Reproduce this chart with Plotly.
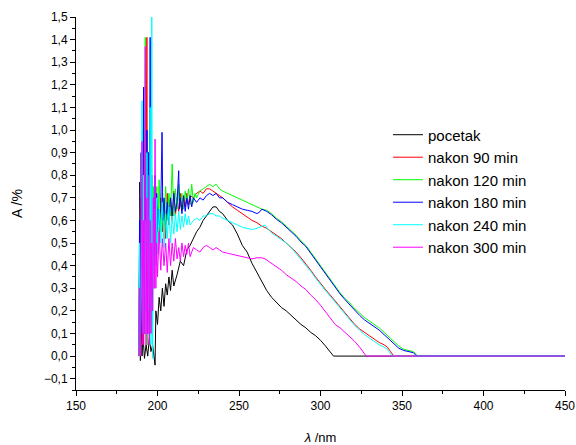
import plotly.graph_objects as go

# ---------------- data ----------------
pocetak_x = [189, 189.5, 190, 190.5, 191, 192, 193, 194, 195, 196, 197, 198, 198.5, 199, 200,
             201, 202, 203, 204, 205, 206, 207, 208, 209, 210, 212, 214, 216, 218, 220, 222,
             224, 226, 228, 230, 232, 234, 236, 238, 240, 243, 246, 249, 252, 255, 258, 261,
             264, 267, 270, 273, 276, 279, 282, 285, 288, 291, 294, 297, 300, 303, 306, 308, 450]
pocetak_y = [0.77, -0.02, 0.30, 0.00, 0.10, -0.01, 0.05, 0.00, 0.08, 0.02, 0.05, 0.00, -0.04, 0.20, 0.14,
             0.26, 0.20, 0.30, 0.22, 0.32, 0.27, 0.35, 0.29, 0.38, 0.31, 0.36, 0.42, 0.40, 0.47, 0.49, 0.52,
             0.55, 0.57, 0.60, 0.62, 0.64, 0.66, 0.66, 0.64, 0.63, 0.60, 0.58, 0.54, 0.49, 0.46, 0.41, 0.37,
             0.33, 0.29, 0.26, 0.235, 0.215, 0.20, 0.18, 0.16, 0.14, 0.125, 0.105, 0.09, 0.07, 0.045, 0.02, 0.0, 0.0]

n90_x = [188.5, 189, 189.5, 190, 190.5, 191, 191.5, 192, 192.5, 193, 193.5, 194, 194.5, 195, 195.5,
         196, 196.5, 197, 197.5, 198, 198.5, 199, 200, 201, 202, 203, 204, 205, 206, 207, 208, 209,
         210, 211, 212, 213, 214, 215, 216, 217, 218, 219, 220, 222, 224, 226, 228, 230, 232, 234,
         236, 238, 240, 243, 246, 249, 252, 255, 258, 261, 264, 267, 270, 273, 276, 279, 282, 285,
         288, 291, 294, 297, 300, 303, 306, 309, 312, 315, 318, 321, 324, 327, 330, 333, 336, 339,
         341, 343, 345, 450]
n90_y = [0.0, 0.4, 0.0, 0.7, 0.1, 0.5, 0.05, 0.8, 0.1, 0.6, 1.41, 0.15, 0.9, 0.2, 0.7,
         0.3, 0.6, 0.35, 0.7, 0.4, 0.62, 0.45, 0.66, 0.5, 0.7, 0.55, 0.68, 0.52, 0.72, 0.58, 0.7, 0.6,
         0.73, 0.62, 0.7, 0.64, 0.72, 0.65, 0.7, 0.66, 0.72, 0.67, 0.71, 0.7, 0.72, 0.73, 0.72, 0.74, 0.74, 0.73,
         0.72, 0.71, 0.7, 0.68, 0.66, 0.645, 0.63, 0.615, 0.6, 0.59, 0.575, 0.565, 0.55, 0.535, 0.52, 0.5, 0.48, 0.46,
         0.435, 0.41, 0.38, 0.35, 0.32, 0.295, 0.27, 0.245, 0.22, 0.195, 0.165, 0.14, 0.12, 0.105, 0.09, 0.075, 0.06, 0.05,
         0.04, 0.02, 0.0, 0.0]

n120_x = [188.5, 189, 189.5, 190, 190.5, 191, 191.5, 192, 192.5, 193, 193.5, 194, 194.5, 195, 195.5,
          196, 196.5, 197, 197.5, 198, 198.5, 199, 199.5, 200, 201, 202, 203, 204, 205, 206, 207, 208,
          209, 210, 211, 212, 213, 214, 215, 216, 217, 218, 219, 220, 221, 222, 223, 224, 226, 228,
          230, 232, 234, 236, 238, 240, 243, 246, 249, 252, 255, 258, 261, 264, 267, 270, 273, 276,
          279, 282, 285, 288, 291, 294, 297, 300, 303, 306, 309, 312, 315, 318, 321, 324, 327, 330,
          333, 336, 339, 342, 345, 348, 351, 354, 357, 359, 360, 450]
n120_y = [0.0, 0.5, 0.0, 0.9, 0.1, 1.0, 0.2, 0.7, 1.41, 0.1, 0.9, 0.05, 0.8, 0.2, 1.0,
          0.1, 0.6, 0.2, 0.75, 0.3, 0.7, 0.45, 0.75, 0.5, 0.78, 0.55, 0.72, 0.52, 0.75, 0.6, 0.72, 0.62,
          0.85, 0.62, 0.74, 0.65, 0.76, 0.66, 0.72, 0.65, 0.73, 0.68, 0.74, 0.67, 0.76, 0.68, 0.72, 0.7, 0.73, 0.74,
          0.75, 0.76, 0.75, 0.76, 0.74, 0.73, 0.72, 0.71, 0.7, 0.69, 0.68, 0.67, 0.66, 0.65, 0.645, 0.63, 0.61, 0.595,
          0.575, 0.555, 0.535, 0.51, 0.49, 0.46, 0.43, 0.395, 0.365, 0.335, 0.31, 0.28, 0.255, 0.235, 0.21, 0.19, 0.17, 0.155,
          0.14, 0.125, 0.105, 0.085, 0.065, 0.045, 0.03, 0.025, 0.02, 0.005, 0.0, 0.0]

n180_x = [188.5, 189, 189.5, 190, 190.5, 191, 191.5, 192, 192.5, 193, 193.5, 194, 194.5, 195, 195.5,
          196, 196.5, 197, 197.5, 198, 198.5, 199, 199.5, 200, 200.5, 201, 202, 202.8, 203.3, 204, 205,
          206, 207, 208, 209, 210, 211, 212, 213, 213.5, 214, 215, 216, 217, 218, 219, 220, 221, 222,
          224, 226, 228, 230, 232, 234, 236, 238, 240, 243, 246, 249, 252, 255, 258, 261, 263, 264,
          267, 270, 273, 276, 279, 282, 285, 288, 291, 294, 297, 300, 303, 306, 309, 312, 315, 318,
          321, 324, 327, 330, 333, 336, 339, 342, 345, 348, 351, 354, 357, 359, 450]
n180_y = [0.0, 0.6, 0.05, 0.9, 0.1, 0.7, 1.19, 0.1, 0.8, 0.2, 1.0, 0.1, 0.9, 0.3, 1.41,
          0.2, 0.8, 0.4, 0.7, 0.45, 0.8, 0.5, 0.72, 0.55, 0.65, 0.58, 0.66, 0.99, 0.6, 0.7, 0.58,
          0.68, 0.6, 0.7, 0.62, 0.72, 0.64, 0.68, 0.82, 0.65, 0.7, 0.63, 0.71, 0.64, 0.7, 0.65, 0.71, 0.66, 0.7,
          0.68, 0.7, 0.69, 0.71, 0.72, 0.71, 0.72, 0.7, 0.7, 0.68, 0.67, 0.66, 0.65, 0.645, 0.64, 0.63, 0.64, 0.65,
          0.64, 0.625, 0.605, 0.59, 0.57, 0.55, 0.53, 0.505, 0.485, 0.455, 0.425, 0.39, 0.36, 0.33, 0.305, 0.275, 0.25, 0.225,
          0.2, 0.18, 0.16, 0.145, 0.13, 0.115, 0.095, 0.075, 0.055, 0.035, 0.025, 0.02, 0.015, 0.0, 0.0]

n240_x = [188.5, 189, 189.5, 190, 190.5, 191, 191.5, 192, 192.5, 193, 193.5, 194, 194.5, 195, 195.5,
          196, 196.5, 197, 197.5, 198, 198.5, 199, 199.5, 200, 201, 202, 203, 204, 205, 206, 207, 208,
          209, 210, 211, 212, 213, 214, 215, 216, 217, 218, 219, 220, 222, 224, 226, 228, 230, 232,
          234, 236, 238, 240, 243, 246, 249, 252, 255, 258, 261, 264, 266, 268, 270, 273, 276, 279,
          282, 285, 288, 291, 294, 297, 300, 303, 306, 309, 312, 315, 318, 321, 324, 327, 330, 333,
          336, 339, 341, 343, 344, 450]
n240_y = [0.0, 0.5, 0.05, 0.3, 1.13, 0.1, 0.8, 0.2, 0.6, 0.1, 0.9, 0.2, 0.7, 0.1, 1.1,
          0.05, 1.5, -0.01, 0.6, 0.3, 0.65, 0.4, 0.7, 0.45, 0.65, 0.5, 0.68, 0.48, 0.63, 0.52, 0.66, 0.5,
          0.62, 0.54, 0.63, 0.55, 0.64, 0.56, 0.62, 0.57, 0.63, 0.58, 0.62, 0.58, 0.6, 0.61, 0.6, 0.62, 0.62, 0.63,
          0.63, 0.62, 0.62, 0.61, 0.6, 0.59, 0.58, 0.57, 0.565, 0.56, 0.565, 0.575, 0.58, 0.56, 0.545, 0.53, 0.515, 0.5,
          0.48, 0.455, 0.43, 0.405, 0.375, 0.345, 0.315, 0.29, 0.265, 0.24, 0.215, 0.19, 0.16, 0.135, 0.115, 0.095, 0.08, 0.065,
          0.05, 0.04, 0.03, 0.01, 0.0, 0.0]

n300_x = [188.5, 189, 189.5, 190, 190.5, 191, 191.5, 192, 192.5, 193, 193.5, 194, 194.5, 195, 195.5,
          196, 196.5, 197, 197.5, 198, 198.5, 199, 199.5, 200, 201, 202, 203, 204, 205, 206, 207, 208,
          209, 210, 211, 212, 213, 214, 215, 216, 217, 218, 219, 220, 222, 224, 226, 228, 230, 232,
          234, 236, 238, 240, 243, 246, 249, 252, 255, 258, 261, 264, 266, 268, 270, 273, 276, 279,
          282, 285, 288, 291, 294, 297, 300, 303, 306, 309, 312, 315, 318, 321, 324, 326, 328, 450]
n300_y = [0.0, 0.3, 0.0, 0.5, 0.95, 0.05, 0.6, 0.1, 1.37, 0.05, 0.7, 0.1, 0.8, 0.05, 0.6,
          0.1, 0.5, 0.2, 0.7, 0.3, 0.96, 0.3, 0.5, 0.35, 0.55, 0.38, 0.52, 0.4, 0.5, 0.37, 0.52, 0.4,
          0.5, 0.42, 0.52, 0.43, 0.48, 0.42, 0.5, 0.44, 0.49, 0.45, 0.5, 0.44, 0.48, 0.47, 0.46, 0.48, 0.49, 0.48,
          0.47, 0.48, 0.47, 0.46, 0.455, 0.45, 0.445, 0.44, 0.435, 0.43, 0.435, 0.435, 0.43, 0.42, 0.41, 0.395, 0.38, 0.36,
          0.345, 0.33, 0.31, 0.295, 0.27, 0.25, 0.225, 0.195, 0.165, 0.14, 0.125, 0.105, 0.085, 0.065, 0.04, 0.02, 0.0, 0.0]

series = [
    ("pocetak", pocetak_x, pocetak_y, "#000000"),
    ("nakon 90 min", n90_x, n90_y, "#FF0000"),
    ("nakon 120 min", n120_x, n120_y, "#00FF00"),
    ("nakon 180 min", n180_x, n180_y, "#0000FF"),
    ("nakon 240 min", n240_x, n240_y, "#00FFFF"),
    ("nakon 300 min", n300_x, n300_y, "#FF00FF"),
]

x_ticks = [150, 200, 250, 300, 350, 400, 450]
y_ticks = [-0.1, 0.0, 0.1, 0.2, 0.3, 0.4, 0.5, 0.6, 0.7, 0.8, 0.9, 1.0, 1.1, 1.2, 1.3, 1.4, 1.5]

# ---------------- figure ----------------
fig = go.Figure()
for name, xs, ys, col in series:
    fig.add_trace(go.Scatter(x=xs, y=ys, mode="lines", name=name,
                             line=dict(color=col, width=1)))

font_family = "Liberation Sans, Arial, sans-serif"

fig.update_layout(
    width=576, height=445,
    margin=dict(l=76, r=11, t=17, b=55),
    paper_bgcolor="white", plot_bgcolor="white",
    separators=",.",
    font=dict(family=font_family, size=11, color="black"),
    showlegend=True,
    legend=dict(x=0.638, y=0.728, xanchor="left", yanchor="top",
                bgcolor="rgba(0,0,0,0)", borderwidth=0,
                font=dict(size=15, family=font_family),
                tracegroupgap=0),
)

fig.update_xaxes(
    range=[150, 450], tickvals=x_ticks, ticktext=[str(v) for v in x_ticks],
    automargin=False,
    showgrid=False, zeroline=False,
    showline=True, linecolor="black", linewidth=1,
    ticks="outside", ticklen=5, tickwidth=1, tickcolor="black",
    minor=dict(dtick=25, ticks="outside", ticklen=3, tickwidth=1, tickcolor="black", showgrid=False),
    tickfont=dict(size=12),
    title=dict(text="<i>λ</i> /nm", font=dict(size=13), standoff=20),
)
fig.update_yaxes(
    range=[-0.15, 1.5], tickvals=y_ticks, tickformat=".1f",
    automargin=False,
    showgrid=False, zeroline=False,
    showline=True, linecolor="black", linewidth=1,
    ticks="outside", ticklen=5, tickwidth=1, tickcolor="black",
    minor=dict(dtick=0.05, tick0=0, ticks="outside", ticklen=3, tickwidth=1, tickcolor="black", showgrid=False),
    tickfont=dict(size=12),
    title=dict(text="A /%", font=dict(size=14), standoff=17),
)

# remove the browser's default 8 px page margin so the 576x445 figure fills the window
fig.write_html("out.html", config={"displayModeBar": False},
               post_script="document.body.style.margin='0';document.body.style.overflow='hidden';")
